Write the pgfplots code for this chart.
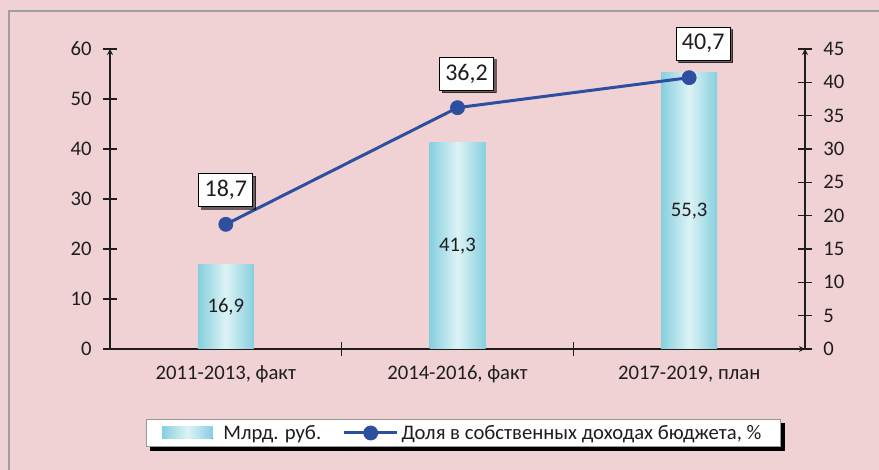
\documentclass[border=0pt]{standalone}
\usepackage{pgfplots}
\usepackage{pgfplotstable}
\pgfplotsset{compat=1.18}
\usepackage{fontspec}
\setmainfont{Carlito}
\usetikzlibrary{shadows}
\definecolor{bgpink}{HTML}{F0D2D5}
\definecolor{framegray}{HTML}{A0A0A0}
\definecolor{barside}{HTML}{86CFDE}
\definecolor{barmid}{HTML}{DDF3F6}
\definecolor{lineblue}{HTML}{2E4E9F}
\definecolor{txt}{HTML}{1E1E1E}

\pgfdeclarelayer{bg}
\pgfdeclarelayer{shade}
\pgfsetlayers{bg,shade,main}

% bars: billion rubles; line: share of own budget revenue, %
\pgfplotstableread{
x val lab
1 16.9 16,9
2 41.3 41,3
3 55.3 55,3
}\barsdata
\pgfplotstableread{
x val lab dx
1 18.7 18,7 0
2 36.2 36,2 6.75
3 40.7 40,7 10.5
}\sharedata

\pgfplotsset{
  base/.style={
    scale only axis, width=521.25pt, height=225pt,
    at={(82.5pt,90.75pt)}, anchor=south west,
    xmin=0.5, xmax=3.5,
    tick align=center, major tick length=10.5pt, minor tick length=10pt,
    axis line style={txt, line width=1pt, -},
    every tick/.style={txt, line width=1pt},
    ticklabel style={font=\fontsize{15.5}{18}\selectfont, text=txt},
    /pgf/number format/assume math mode=true,
  },
  lineleg/.style={legend image code/.code={
    \draw[mark repeat=2, mark phase=2, fill=none, ##1] plot coordinates {(0pt,0pt) (20pt,0pt) (40pt,0pt)};}},
  barleg/.style={legend image code/.code={
    \fill[draw=none, left color=barside, right color=barside, middle color=barmid]
      (0pt,-4.5pt) rectangle (38pt,4.5pt);
    \path[draw=none, fill=none] (44pt,0pt);}},
  barstyle/.style={ybar, bar width=42pt, bar shift=0pt, draw=none,
    left color=barside, right color=barside, middle color=barmid,
    point meta=explicit symbolic, nodes near coords,
    visualization depends on={rawy \as \rawy},
    every node near coord/.append style={anchor=center, text=txt,
      font=\fontsize{15.5}{18}\selectfont, yshift={-1.875pt*\rawy}}},
}

\begin{document}
\begin{tikzpicture}
\useasboundingbox (0,0) rectangle (659.25pt,352.5pt);
\begin{pgfonlayer}{bg}
\fill[bgpink] (0,0) rectangle (659.25pt,352.5pt);
\draw[framegray, line width=2pt] (6.75pt,0) -- (6.75pt,344.25pt) -- (659.25pt,344.25pt);
\end{pgfonlayer}

\begin{axis}[base,
  ymin=0, ymax=60, ytick={0,10,...,60},
  axis x line=bottom, axis y line=left,
  yticklabel style={xshift=-5pt},
  xtick={1,2,3},
  xticklabels={{2011-2013, факт},{2014-2016, факт},{2017-2019, план}},
  major x tick style={draw=none},
  minor xtick={1.5,2.5},
  xticklabel style={yshift=-4pt},
]
% one plot per bar, so that each bar gets its own shading
\pgfplotsinvokeforeach{0.8:1.2, 1.8:2.2, 2.8:3.2}{
  \addplot[barstyle, restrict x to domain=#1]
    table[x=x, y=val, meta=lab] {\barsdata};
}
\end{axis}

\begin{axis}[base,
  ymin=0, ymax=45, ytick={0,5,...,45},
  axis x line=none, axis y line=right,
  yticklabel style={xshift=5pt},
  xtick=\empty,
  legend columns=2,
  legend style={name=leg, at={(0.508,-0.28)}, anchor=center,
    draw=black!40, fill=white, line width=0.75pt,
    font=\fontsize{15.5}{18}\selectfont, text=txt,
    inner xsep=12pt, inner ysep=2pt,
    /tikz/every even column/.append style={column sep=14pt}},
]
\addlegendimage{barleg}
\addlegendentry{Млрд. руб.}
\addplot[lineblue, line width=2.25pt, mark=*, mark size=5.3pt,
  mark options={fill=lineblue, draw=lineblue, line width=0.5pt},
  lineleg,
  point meta=explicit symbolic, nodes near coords,
  visualization depends on={\thisrow{dx} \as \dx},
  every node near coord/.append style={anchor=center, draw=black, fill=white,
    line width=0.75pt, text=txt, font=\fontsize{18}{20}\selectfont,
    minimum width=40.5pt, minimum height=24.75pt, inner sep=1pt,
    xshift=\dx pt, yshift=25.5pt,
    drop shadow={shadow xshift=2pt, shadow yshift=-2pt, fill=black, opacity=0.55}}]
  table[x=x, y=val, meta=lab] {\sharedata};
\addlegendentry{Доля в собственных доходах бюджета, \%}
\end{axis}

\begin{pgfonlayer}{shade}
\fill[black] ([shift={(3pt,-3pt)}]leg.south west) rectangle ([shift={(3pt,-3pt)}]leg.north east);
\end{pgfonlayer}
\end{tikzpicture}
\end{document}
